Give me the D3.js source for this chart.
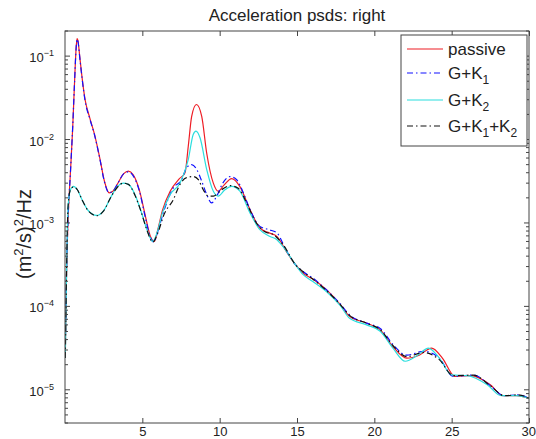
<!DOCTYPE html>
<html>
<head>
<meta charset="utf-8">
<script src="https://cdn.jsdelivr.net/npm/d3@7"></script>
<style>
html, body { margin: 0; padding: 0; background: #fff; overflow: hidden; }
svg { display: block; }
text { font-family: Arial, "Liberation Sans", Helvetica, sans-serif; fill: #222; }
</style>
</head>
<body>
<div id="chart"></div>
<script>
// values (frequency in Hz, psd in (m^2/s)^2/Hz)
var freqPassive = [0.02, 0.1, 0.2, 0.35, 0.5, 0.62, 0.72, 0.78, 0.85, 0.95, 1.1, 1.3, 1.6, 1.9, 2.25, 2.55, 2.85, 3.1, 3.4, 3.8, 4.1, 4.4, 4.8, 5.2, 5.5, 5.77,
    6.0, 6.3, 6.8, 7.4, 7.76, 7.97, 8.19, 8.5, 8.84, 9.16, 9.59, 9.91, 10.25, 10.78, 11.3, 11.96, 12.6, 13.2, 13.7, 14.3, 14.9, 15.4, 16.0, 16.9,
    17.8, 18.4, 19.5, 20.4, 21.2, 22.1, 22.9, 23.7, 24.4, 25.2, 26.2, 27.5, 28.3, 29.2, 30];
var psdPassive = [3.2e-5, 2.5e-4, 1.12e-3, 4.0e-3, 1.41e-2, 5.0e-2, 0.126, 0.162, 0.148, 0.1, 5.6e-2, 3.0e-2, 1.82e-2, 1.17e-2, 6.0e-3, 3.16e-3, 2.3e-3, 2.4e-3, 2.95e-3, 3.9e-3, 4.17e-3, 3.8e-3, 2.51e-3, 1.2e-3, 7.1e-4, 6.0e-4,
    8.3e-4, 1.41e-3, 2.4e-3, 3.4e-3, 4.0e-3, 8.3e-3, 1.9e-2, 2.63e-2, 1.9e-2, 6.9e-3, 3.0e-3, 2.4e-3, 2.8e-3, 3.4e-3, 2.75e-3, 1.45e-3, 8.7e-4, 7.6e-4, 6.9e-4, 4.6e-4, 3.16e-4, 2.5e-4, 2.14e-4, 1.58e-4,
    1.05e-4, 7.6e-5, 6.3e-5, 5.2e-5, 3.3e-5, 2.4e-5, 2.6e-5, 3.16e-5, 2.4e-5, 1.45e-5, 1.48e-5, 1.15e-5, 8.5e-6, 8.5e-6, 7.9e-6];

var freqGK1 = [0.02, 0.1, 0.2, 0.35, 0.5, 0.62, 0.72, 0.78, 0.85, 0.95, 1.1, 1.3, 1.6, 1.9, 2.25, 2.55, 2.85, 3.1, 3.4, 3.8, 4.1, 4.4, 4.8, 5.2, 5.5, 5.75,
    6.0, 6.4, 7.0, 7.54, 7.86, 8.19, 8.51, 8.84, 9.16, 9.48, 9.81, 10.2, 10.67, 11.1, 11.53, 11.96, 12.6, 13.2, 13.7, 14.3, 14.9, 15.4, 16.0, 16.9,
    17.8, 18.4, 19.5, 20.4, 21.2, 22.1, 23.2, 24.2, 25.1, 26.4, 27.5, 28.4, 29.3, 30];
var psdGK1 = [3.2e-5, 2.6e-4, 1.15e-3, 4.0e-3, 1.45e-2, 5.0e-2, 0.125, 0.16, 0.146, 0.098, 5.5e-2, 2.9e-2, 1.78e-2, 1.15e-2, 5.9e-3, 3.1e-3, 2.3e-3, 2.4e-3, 2.95e-3, 3.9e-3, 4.1e-3, 3.7e-3, 2.45e-3, 1.15e-3, 6.9e-4, 5.9e-4,
    7.9e-4, 1.41e-3, 2.63e-3, 3.3e-3, 4.6e-3, 5.0e-3, 4.4e-3, 3.16e-3, 2.2e-3, 1.74e-3, 2.1e-3, 3.0e-3, 3.6e-3, 3.3e-3, 2.3e-3, 1.45e-3, 9.1e-4, 8.3e-4, 7.6e-4, 4.7e-4, 3.16e-4, 2.6e-4, 2.2e-4, 1.58e-4,
    1.07e-4, 7.9e-5, 6.3e-5, 5.4e-5, 3.5e-5, 2.6e-5, 2.9e-5, 2.4e-5, 1.45e-5, 1.5e-5, 1.12e-5, 8.5e-6, 8.7e-6, 7.9e-6];

var freqGK2 = [0.02, 0.1, 0.2, 0.35, 0.55, 0.8, 1.1, 1.5, 2.05, 2.5, 3.0, 3.4, 3.77, 4.1, 4.5, 4.9, 5.3, 5.67, 5.95, 6.3, 6.8,
    7.43, 7.97, 8.29, 8.47, 8.73, 9.16, 9.59, 9.91, 10.34, 10.78, 11.31, 11.96, 12.6, 13.25, 13.7, 14.1, 14.9, 15.4, 16.0, 16.9,
    17.8, 18.4, 19.5, 20.4, 21.2, 22.0, 22.8, 23.5, 24.2, 25.0, 26.0, 27.3, 28.2, 29.2, 30];
var psdGK2 = [2.4e-5, 2.5e-4, 1.58e-3, 2.5e-3, 2.75e-3, 2.5e-3, 1.9e-3, 1.41e-3, 1.23e-3, 1.41e-3, 2.1e-3, 2.75e-3, 3.0e-3, 2.9e-3, 2.24e-3, 1.41e-3, 8.3e-4, 6.0e-4, 7.6e-4, 1.32e-3, 2.2e-3,
    3.0e-3, 5.75e-3, 1.15e-2, 1.26e-2, 1.05e-2, 4.4e-3, 2.4e-3, 2.1e-3, 2.5e-3, 2.75e-3, 2.4e-3, 1.32e-3, 8.3e-4, 6.9e-4, 6.3e-4, 5.2e-4, 3.16e-4, 2.4e-4, 2.0e-4, 1.51e-4,
    1.02e-4, 7.2e-5, 6.0e-5, 5.0e-5, 3.16e-5, 2.2e-5, 2.6e-5, 3.16e-5, 2.4e-5, 1.51e-5, 1.48e-5, 1.15e-5, 8.5e-6, 8.5e-6, 7.9e-6];

var freqGK1K2 = [0.02, 0.1, 0.2, 0.35, 0.55, 0.8, 1.1, 1.5, 2.05, 2.5, 3.0, 3.4, 3.77, 4.1, 4.5, 4.9, 5.3, 5.67,
    6.0, 6.4, 7.0, 7.43, 7.86, 8.29, 8.62, 8.94, 9.26, 9.59, 10.13, 10.67, 11.2, 11.74, 12.3, 12.9, 13.5, 14.1, 14.9, 15.4, 16.0, 16.9,
    17.8, 18.4, 19.5, 20.4, 21.2, 22.1, 23.2, 24.2, 25.1, 26.4, 27.5, 28.4, 29.3, 30];
var psdGK1K2 = [2.4e-5, 2.6e-4, 1.6e-3, 2.5e-3, 2.7e-3, 2.5e-3, 1.9e-3, 1.4e-3, 1.22e-3, 1.4e-3, 2.1e-3, 2.7e-3, 3.0e-3, 2.9e-3, 2.2e-3, 1.4e-3, 8.2e-4, 5.9e-4,
    7.6e-4, 1.26e-3, 1.9e-3, 2.9e-3, 3.5e-3, 3.6e-3, 3.3e-3, 2.5e-3, 2.1e-3, 2.1e-3, 2.5e-3, 2.8e-3, 2.6e-3, 1.74e-3, 1.05e-3, 7.9e-4, 7.2e-4, 5.5e-4, 3.16e-4, 2.6e-4, 2.14e-4, 1.55e-4,
    1.05e-4, 7.8e-5, 6.3e-5, 5.2e-5, 3.4e-5, 2.5e-5, 2.8e-5, 2.3e-5, 1.48e-5, 1.5e-5, 1.12e-5, 8.5e-6, 8.7e-6, 7.9e-6];

var xTicks = [5, 10, 15, 20, 25, 30];
var yDecades = [-5, -4, -3, -2, -1];
var xDomain = [0, 30];
var yDomain = [4e-6, 0.2];

var outerWidth = 536;
var outerHeight = 439;
var margin = { left: 65, top: 31, right: 7, bottom: 16 };
var innerWidth = outerWidth - margin.left - margin.right;
var innerHeight = outerHeight - margin.top - margin.bottom;

var svg = d3.select('#chart').append('svg')
    .attr('width', outerWidth)
    .attr('height', outerHeight);
var g = svg.append('g')
    .attr('transform', 'translate(' + margin.left + ',' + margin.top + ')');

var xScale = d3.scaleLinear().domain(xDomain).range([0, innerWidth]);
var yScale = d3.scaleLog().domain(yDomain).range([innerHeight, 0]);

g.append('clipPath').attr('id', 'clip')
    .append('rect').attr('width', innerWidth).attr('height', innerHeight);

// series in legend order
var series = [
    { f: freqPassive, v: psdPassive, color: '#ee1c24', dash: null },
    { f: freqGK1, v: psdGK1, color: '#1010ff', dash: '6,3,1.5,3' },
    { f: freqGK2, v: psdGK2, color: '#2adede', dash: null },
    { f: freqGK1K2, v: psdGK1K2, color: '#111', dash: '6,3,1.5,3' }
];

var line = d3.line()
    .x(function (d) { return xScale(d[0]); })
    .y(function (d) { return yScale(d[1]); })
    .curve(d3.curveMonotoneX);

var plot = g.append('g').attr('clip-path', 'url(#clip)');
series.forEach(function (s) {
    var pts = s.f.map(function (f, i) { return [f, s.v[i]]; });
    plot.append('path')
        .attr('d', line(pts))
        .attr('fill', 'none')
        .attr('stroke', s.color)
        .attr('stroke-width', 1.2)
        .attr('stroke-dasharray', s.dash);
});

// frame
g.append('rect')
    .attr('width', innerWidth)
    .attr('height', innerHeight)
    .attr('fill', 'none')
    .attr('stroke', '#444')
    .attr('stroke-width', 1);

// x axis, ticks pointing inward
var xAxis = d3.axisBottom(xScale).tickValues(xTicks).tickSizeInner(-5).tickSizeOuter(0).tickPadding(4);
var xAxisG = g.append('g').attr('transform', 'translate(0,' + innerHeight + ')').call(xAxis);
xAxisG.select('.domain').remove();
xAxisG.selectAll('line').attr('stroke', '#444');
xAxisG.selectAll('text').attr('font-size', 13).attr('fill', '#222').style('font-family', 'Arial, "Liberation Sans", sans-serif');
// keep the last label inside the picture
xAxisG.selectAll('text').filter(function (d) { return d === 30; }).attr('text-anchor', 'end').attr('x', 6.5);

var xTopG = g.append('g').call(d3.axisTop(xScale).tickValues(xTicks).tickSizeInner(-5).tickSizeOuter(0).tickFormat(''));
xTopG.select('.domain').remove();
xTopG.selectAll('line').attr('stroke', '#444');

// y ticks: decades and minor 2..9
var minorTicks = [];
for (var e = -6; e <= -1; e++) {
    for (var m = 2; m <= 9; m++) {
        var val = m * Math.pow(10, e);
        if (val >= yDomain[0] && val <= yDomain[1]) minorTicks.push(val);
    }
}
var majorTicks = yDecades.map(function (p) { return Math.pow(10, p); });

[0, innerWidth].forEach(function (x0) {
    var dir = x0 === 0 ? 1 : -1;
    g.append('g').selectAll('line.minor').data(minorTicks).enter().append('line')
        .attr('x1', x0).attr('x2', x0 + dir * 3)
        .attr('y1', function (d) { return yScale(d); })
        .attr('y2', function (d) { return yScale(d); })
        .attr('stroke', '#444');
    g.append('g').selectAll('line.major').data(majorTicks).enter().append('line')
        .attr('x1', x0).attr('x2', x0 + dir * 5)
        .attr('y1', function (d) { return yScale(d); })
        .attr('y2', function (d) { return yScale(d); })
        .attr('stroke', '#444');
});

var yLabels = g.append('g').selectAll('text').data(yDecades).enter().append('text')
    .attr('x', -11)
    .attr('y', function (d) { return yScale(Math.pow(10, d)) + 6; })
    .attr('text-anchor', 'end')
    .attr('font-size', 13);
yLabels.append('tspan').text('10');
yLabels.append('tspan').attr('font-size', 9).attr('dy', -6).text(function (d) { return '\u2212' + (-d); });

// title
svg.append('text')
    .attr('x', margin.left + innerWidth / 2)
    .attr('y', 21)
    .attr('text-anchor', 'middle')
    .attr('font-size', 17)
    .text('Acceleration psds: right');

// y axis label
var yTitle = svg.append('text')
    .attr('transform', 'translate(31,' + (margin.top + innerHeight / 2 + 7) + ') rotate(-90)')
    .attr('text-anchor', 'middle')
    .attr('font-size', 20);
yTitle.append('tspan').text('(m');
yTitle.append('tspan').attr('font-size', 13).attr('dy', -8).text('2');
yTitle.append('tspan').attr('dy', 8).text('/s)');
yTitle.append('tspan').attr('font-size', 13).attr('dy', -8).text('2');
yTitle.append('tspan').attr('dy', 8).text('/Hz');

// legend
var legendItems = [
    { parts: [['passive', 0]], color: series[0].color, dash: null, ly: 49, ty: 55 },
    { parts: [['G+K', 0], ['1', 1]], color: series[1].color, dash: series[1].dash, ly: 73, ty: 79 },
    { parts: [['G+K', 0], ['2', 1]], color: series[2].color, dash: null, ly: 100, ty: 106 },
    { parts: [['G+K', 0], ['1', 1], ['+K', 0], ['2', 1]], color: series[3].color, dash: series[3].dash, ly: 126, ty: 132 }
];

var legend = svg.append('g');
legend.append('rect')
    .attr('x', 401).attr('y', 35)
    .attr('width', 126).attr('height', 111)
    .attr('fill', '#fff')
    .attr('stroke', '#444');

legendItems.forEach(function (d) {
    legend.append('line')
        .attr('x1', 407).attr('x2', 443)
        .attr('y1', d.ly).attr('y2', d.ly)
        .attr('stroke', d.color)
        .attr('stroke-width', 1.2)
        .attr('stroke-dasharray', d.dash);
    var t = legend.append('text')
        .attr('x', 448).attr('y', d.ty)
        .attr('font-size', 17);
    var low = 0;
    d.parts.forEach(function (p) {
        var ts = t.append('tspan').text(p[0]);
        if (p[1] === 1 && low === 0) { ts.attr('font-size', 12).attr('dy', 5); low = 1; }
        else if (p[1] === 0 && low === 1) { ts.attr('dy', -5); low = 0; }
    });
});
</script>
</body>
</html>
